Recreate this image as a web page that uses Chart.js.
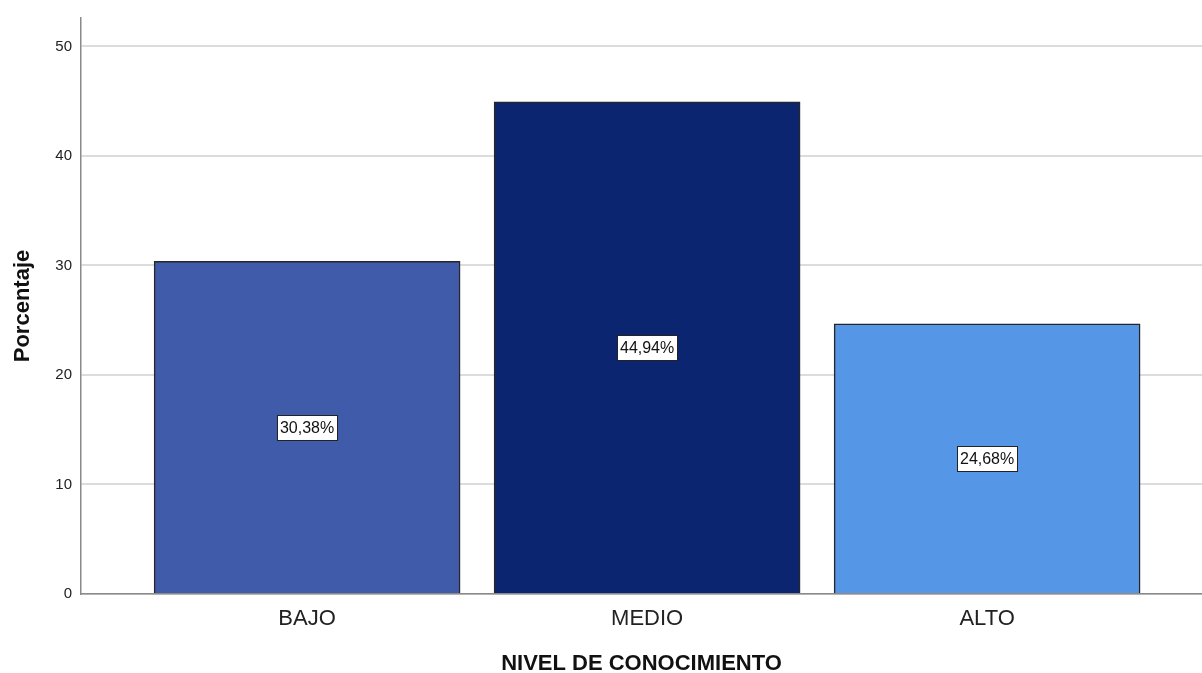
<!DOCTYPE html>
<html>
<head>
<meta charset="utf-8">
<title>Nivel de conocimiento</title>
<script src="https://cdn.jsdelivr.net/npm/chart.js@4/dist/chart.umd.min.js"></script>
<style>
  html, body { margin: 0; padding: 0; background: #fff; }
  #wrap { width: 1202px; height: 673px; }
</style>
</head>
<body>
<div id="wrap"><canvas id="barChart" width="1202" height="673"></canvas></div>
<script>
const categories = ['BAJO', 'MEDIO', 'ALTO'];
const percentages = [30.38, 44.94, 24.68];
const barColors = ['#3F5BA9', '#0B2570', '#5596E6'];
const yTicks = [0, 10, 20, 30, 40, 50];

const FONT = "'Liberation Sans', Arial, sans-serif";

// white boxed value in the middle of every bar
const valueBoxes = {
  id: 'valueBoxes',
  afterDatasetsDraw(chart) {
    const ctx = chart.ctx;
    const meta = chart.getDatasetMeta(0);
    ctx.save();
    ctx.font = '16px ' + FONT;
    ctx.textAlign = 'center';
    ctx.textBaseline = 'middle';
    meta.data.forEach((bar, i) => {
      const text = percentages[i].toFixed(2).replace('.', ',') + '%';
      const cx = bar.x;
      const cy = (bar.y + bar.base) / 2;
      const w = Math.round(ctx.measureText(text).width + 6);
      const h = 25;
      const x0 = Math.round(cx - w / 2) + 0.5;
      const y0 = Math.round(cy - h / 2) + 0.5;
      ctx.fillStyle = '#fff';
      ctx.fillRect(x0, y0, w, h);
      ctx.strokeStyle = '#222';
      ctx.lineWidth = 1;
      ctx.strokeRect(x0, y0, w, h);
      ctx.fillStyle = '#111';
      ctx.fillText(text, cx, cy + 1);
    });
    ctx.restore();
  }
};

new Chart(document.getElementById('barChart').getContext('2d'), {
  type: 'bar',
  data: {
    datasets: [{
      data: categories.map((c, i) => ({ x: i, y: percentages[i] })),
      backgroundColor: barColors,
      borderColor: '#262626',
      borderWidth: 1.5,
      barThickness: 306
    }]
  },
  options: {
    responsive: false,
    animation: false,
    layout: { padding: { top: 16, right: 0, bottom: 0, left: 0 } },
    plugins: {
      legend: { display: false },
      tooltip: { enabled: false }
    },
    scales: {
      x: {
        type: 'linear',
        offset: false,
        min: -0.665,
        max: 2.632,
        afterBuildTicks: (scale) => { scale.ticks = categories.map((c, i) => ({ value: i })); },
        afterFit: (scale) => { scale.height = 79; },
        grid: { display: false, offset: false },
        border: { display: true, color: '#8a8a8a', width: 1.5 },
        ticks: {
          padding: 4,
          color: '#222',
          font: { family: FONT, size: 22 },
          callback: (v) => categories[v]
        },
        title: {
          display: true,
          text: 'NIVEL DE CONOCIMIENTO',
          color: '#111',
          font: { family: FONT, size: 22, weight: 'bold' },
          padding: { top: 0, bottom: -4 }
        }
      },
      y: {
        min: 0,
        max: 52.6,
        afterBuildTicks: (scale) => { scale.ticks = yTicks.map(v => ({ value: v })); },
        afterFit: (scale) => { scale.width = 81; },
        grid: { color: '#dcdcdc', lineWidth: 2, drawTicks: false },
        border: { display: true, color: '#8a8a8a', width: 1.5 },
        ticks: {
          padding: 9,
          color: '#222',
          font: { family: FONT, size: 15 }
        },
        title: {
          display: true,
          text: 'Porcentaje',
          color: '#111',
          font: { family: FONT, size: 22, weight: 'bold' },
          padding: { top: 10, bottom: 0 }
        }
      }
    }
  },
  plugins: [valueBoxes]
});
</script>
</body>
</html>
